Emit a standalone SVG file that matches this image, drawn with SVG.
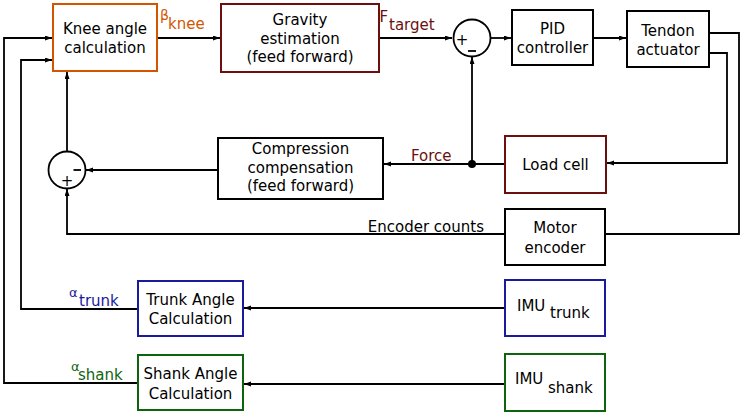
<svg xmlns="http://www.w3.org/2000/svg" width="743" height="414" viewBox="0 0 743 414">
<defs>
<marker id="ah" markerUnits="userSpaceOnUse" markerWidth="8" markerHeight="6" refX="7" refY="2.5" orient="auto">
<path d="M0,0 L7,2.5 L0,5 z" fill="#000"/>
</marker>
</defs>
<style>
text{font-family:"DejaVu Sans","Liberation Sans",sans-serif;font-size:15px;fill:#000}
.c{text-anchor:middle}
.box{fill:#fff;stroke-width:2}
.k{stroke:#000}
.or{stroke:#d45500}
.dr{stroke:#6b0f0f}
.bl{stroke:#1a1a9c}
.gr{stroke:#0e640e}
.tor{fill:#d45500}
.tdr{fill:#6b0f0f}
.tbl{fill:#1a1a9c}
.tgr{fill:#0e640e}
.ln{fill:none;stroke:#000;stroke-width:1.8}
.ar{marker-end:url(#ah)}
.sum{fill:#fff;stroke:#000;stroke-width:1.8}
</style>
<rect width="743" height="414" fill="#fff"/>
<g id="connectors">
<path class="ln ar" d="M157,38 H220"/>
<path class="ln ar" d="M379,38 H452"/>
<path class="ln ar" d="M491,38 H511"/>
<path class="ln ar" d="M593,38 H626"/>
<path class="ln" d="M709,33 H739 V234 H605"/>
<path class="ln ar" d="M709,53 H727 V163 H607"/>
<path class="ln ar" d="M505,164 H384"/>
<path class="ln ar" d="M472,164 V57"/>
<circle cx="472" cy="164" r="4" fill="#000"/>
<path class="ln ar" d="M218,170 H86"/>
<path class="ln ar" d="M67,152 V72"/>
<path class="ln ar" d="M505,234 H67 V189"/>
<path class="ln ar" d="M505,308 H244"/>
<path class="ln ar" d="M505,384 H244"/>
<path class="ln ar" d="M138,309 H21 V60 H52"/>
<path class="ln ar" d="M138,383 H4 V38 H52"/>
<text class="tor" x="160" y="20" style="font-size:14px">β</text>
<text class="tor" x="168" y="29">knee</text>
<text class="tdr" x="379.5" y="22">F</text>
<text class="tdr" x="389" y="30">target</text>
<text class="tdr" x="411" y="161">Force</text>
<text x="484" y="232" style="text-anchor:end">Encoder counts</text>
<text class="tbl" x="69" y="297" style="font-size:13px">α</text>
<text class="tbl" x="79" y="306">trunk</text>
<text class="tgr" x="71" y="371" style="font-size:13px">α</text>
<text class="tgr" x="78" y="380">shank</text>
</g>
<g id="knee">
<rect class="box or" x="53" y="4" width="104" height="67"/>
<text class="c" x="105" y="33.5">Knee angle</text>
<text class="c" x="105" y="53">calculation</text>
</g>
<g id="gravity">
<rect class="box dr" x="221" y="4" width="158" height="68"/>
<text class="c" x="300" y="25">Gravity</text>
<text class="c" x="300" y="44">estimation</text>
<text class="c" x="300" y="62">(feed forward)</text>
</g>
<g id="sum1">
<circle class="sum" cx="472" cy="38" r="18.5"/>
<text class="c" x="462" y="45">+</text>
<path d="M468,51 H476" stroke="#000" stroke-width="1.8"/>
</g>
<g id="pid">
<rect class="box k" x="512" y="10" width="81" height="55"/>
<text class="c" x="552.5" y="34">PID</text>
<text class="c" x="552.5" y="53">controller</text>
</g>
<g id="tendon">
<rect class="box k" x="627" y="11" width="82" height="56"/>
<text class="c" x="668" y="35.5">Tendon</text>
<text class="c" x="668" y="55">actuator</text>
</g>
<g id="loadcell">
<rect class="box dr" x="505" y="136" width="101" height="57"/>
<text class="c" x="555.5" y="170">Load cell</text>
</g>
<g id="compression">
<rect class="box k" x="218" y="138" width="165" height="61"/>
<text class="c" x="300.5" y="154">Compression</text>
<text class="c" x="300.5" y="173">compensation</text>
<text class="c" x="300.5" y="191">(feed forward)</text>
</g>
<g id="sum2">
<circle class="sum" cx="67" cy="170" r="18.5"/>
<path d="M73.5,170 H81" stroke="#000" stroke-width="1.8"/>
<text class="c" x="67" y="186">+</text>
</g>
<g id="motorencoder">
<rect class="box k" x="505" y="209" width="100" height="56"/>
<text class="c" x="555" y="233">Motor</text>
<text class="c" x="555" y="253">encoder</text>
</g>
<g id="imutrunk">
<rect class="box bl" x="505" y="280" width="100" height="56"/>
<text x="517" y="311">IMU</text>
<text x="550" y="318">trunk</text>
</g>
<g id="trunkangle">
<rect class="box bl" x="138" y="281" width="105" height="55"/>
<text class="c" x="190.5" y="305">Trunk Angle</text>
<text class="c" x="190.5" y="324">Calculation</text>
</g>
<g id="imushank">
<rect class="box gr" x="505" y="354" width="100" height="57"/>
<text x="515" y="384">IMU</text>
<text x="548" y="393">shank</text>
</g>
<g id="shankangle">
<rect class="box gr" x="138" y="355" width="105" height="55"/>
<text class="c" x="190.5" y="379">Shank Angle</text>
<text class="c" x="190.5" y="399">Calculation</text>
</g>
</svg>
